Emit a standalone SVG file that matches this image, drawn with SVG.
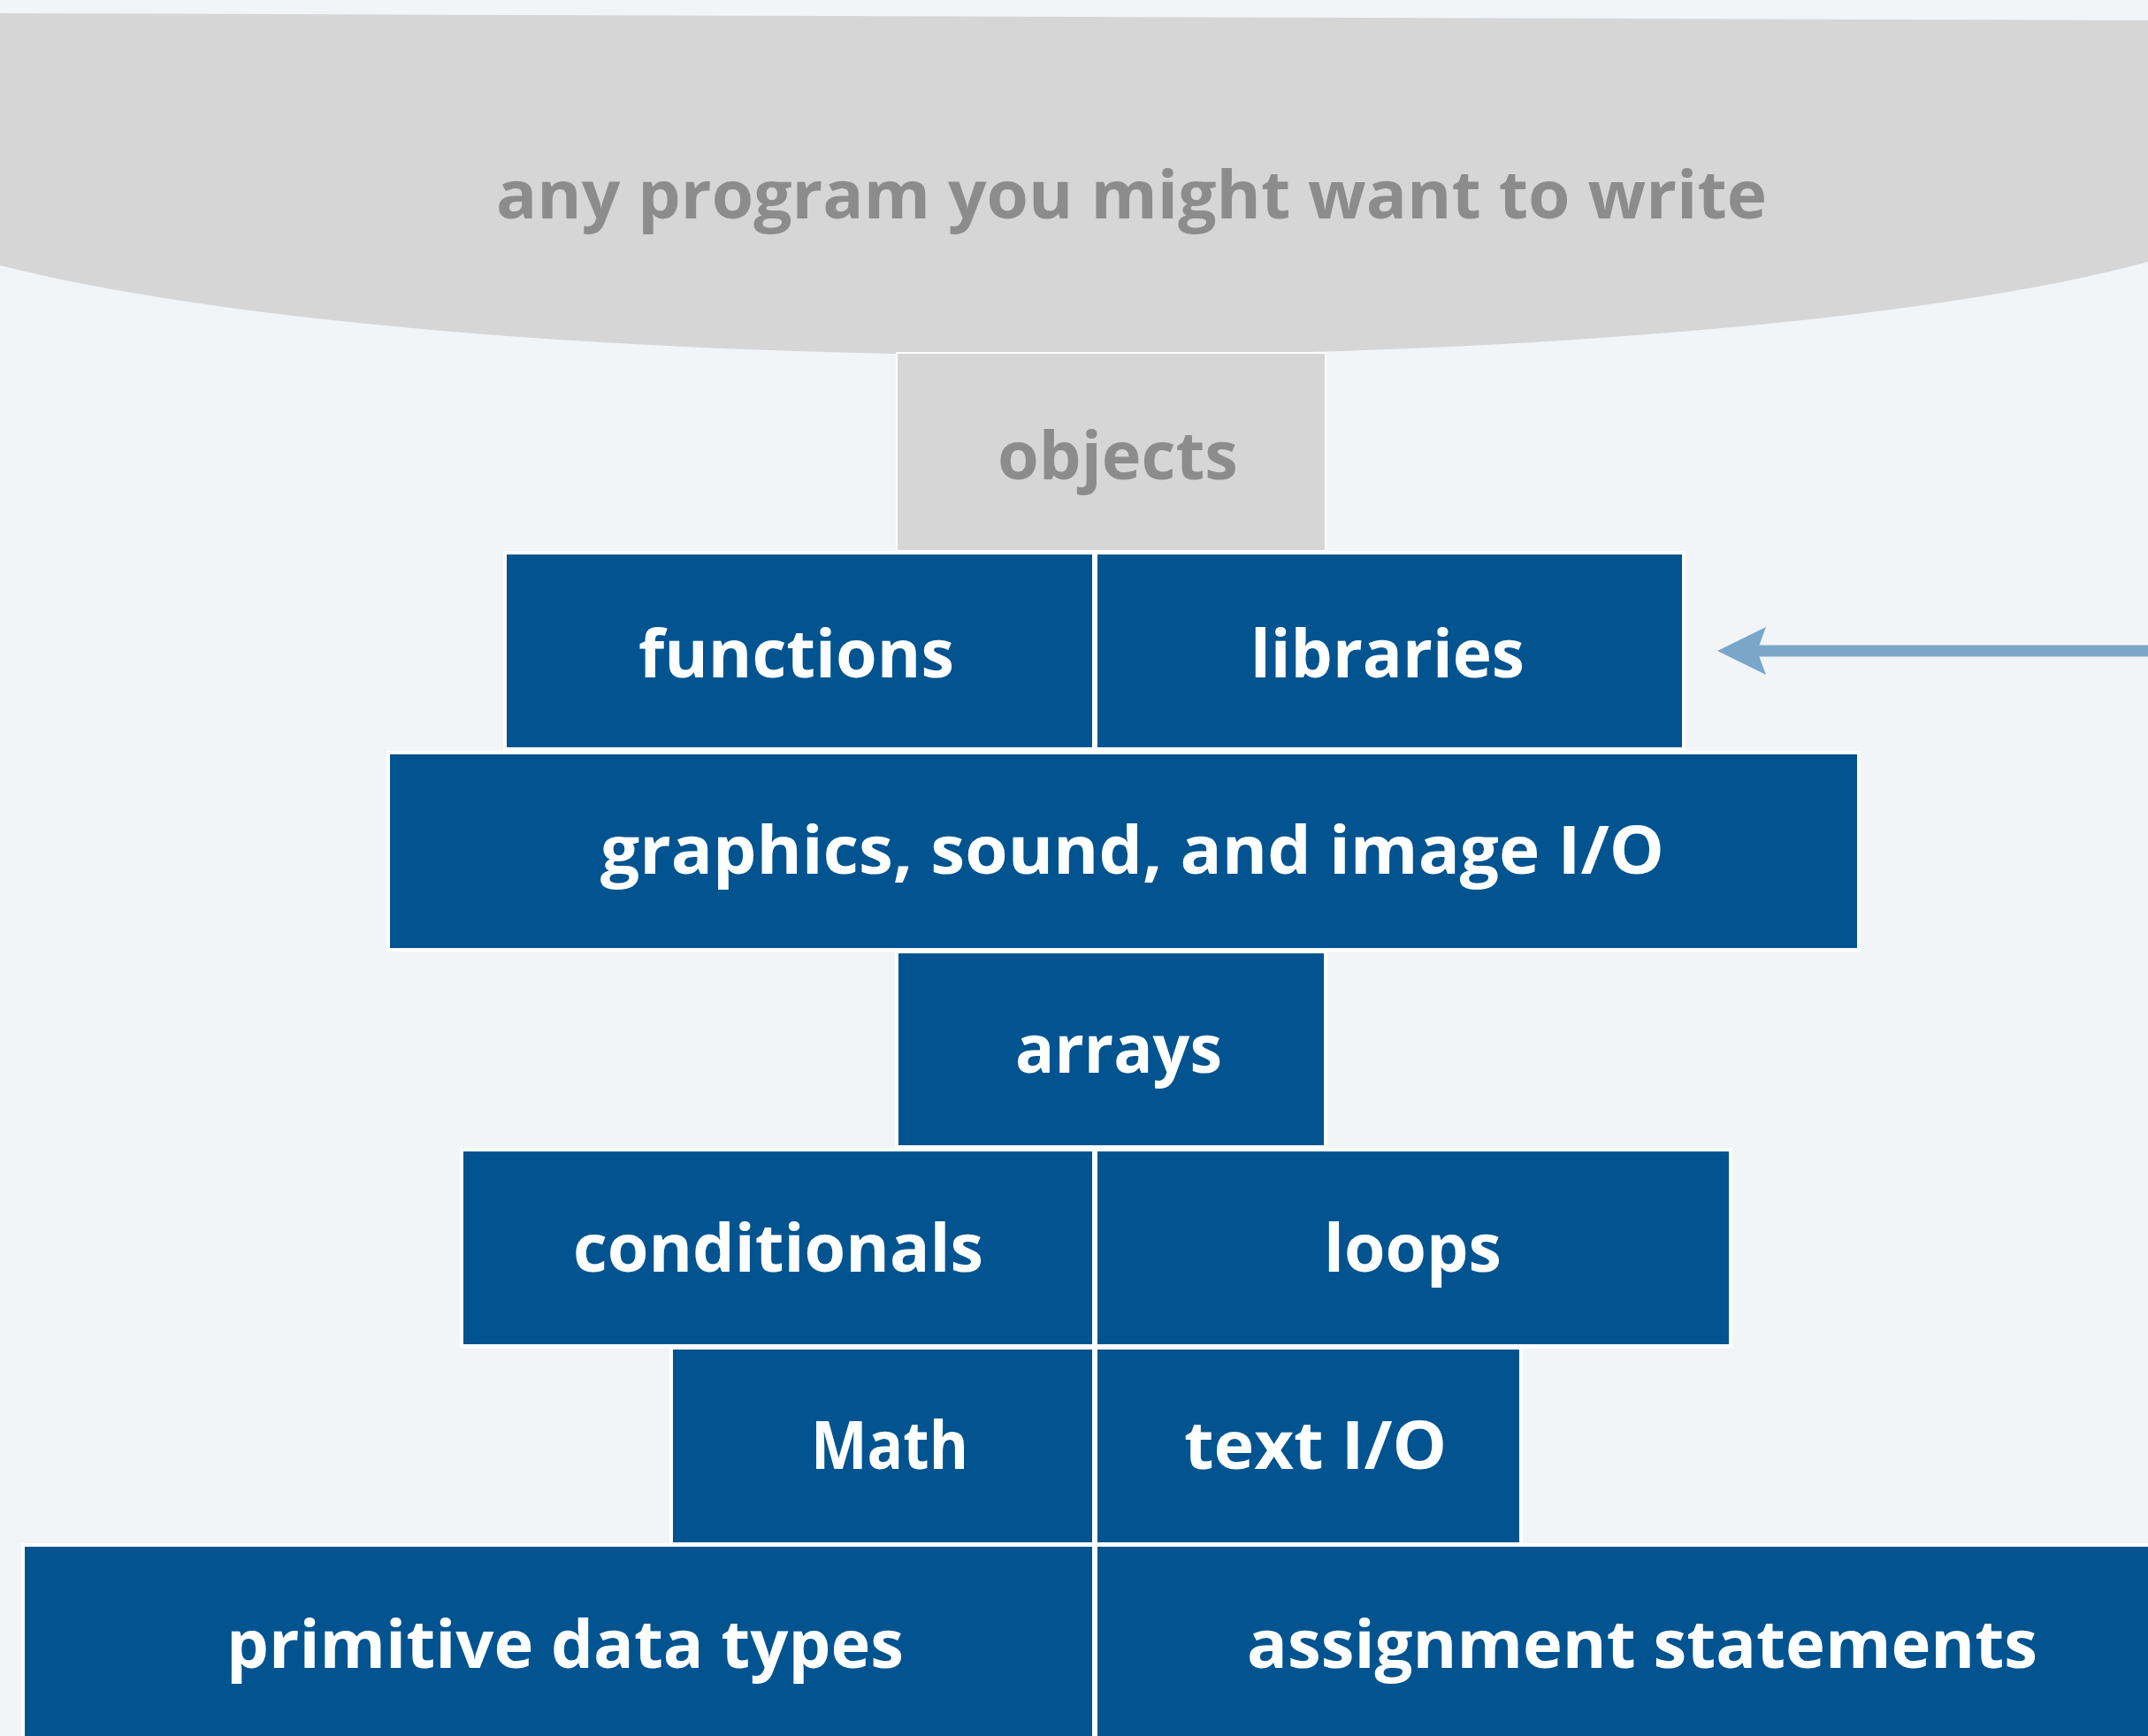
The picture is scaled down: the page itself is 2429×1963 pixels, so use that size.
<svg xmlns="http://www.w3.org/2000/svg" width="2429" height="1963" viewBox="0 0 2429 1963">
  <style>
    .edge { fill: #ffffff; }
    .blue { fill: #01548f; }
    .grey { fill: #d6d6d6; }
    .lbl { font-family: "Open Sans", "DejaVu Sans", sans-serif; font-weight: bold; font-size: 75px; fill: #ffffff; }
    .glbl { font-family: "Open Sans", "DejaVu Sans", sans-serif; font-weight: bold; font-size: 75px; fill: #8c8c8c; }
    .conn { stroke: #7aa7c9; stroke-width: 13; fill: none; }
  </style>
  <defs>
    <marker id="ah" markerUnits="userSpaceOnUse" markerWidth="60" markerHeight="60" viewBox="-10 -30 60 60" refX="0" refY="0" orient="auto" overflow="visible">
      <path d="M45,0 L-10,-27 L0,0 L-10,27 Z" fill="#7aa7c9"/>
    </marker>
  </defs>
  <rect x="0" y="0" width="2429" height="1963" fill="#f2f5f8"/>

  <g id="any-program">
    <path class="grey" d="M0,15 L2429,23 L2429,296 A1380,198 0 0 1 0,300 Z"/>
    <text class="glbl" x="561" y="247" textLength="1437" lengthAdjust="spacingAndGlyphs">any program you might want to write</text>
  </g>

  <g id="objects">
    <rect class="edge" x="1013" y="398" width="487" height="226"/>
    <rect class="grey" x="1015" y="400" width="483" height="222"/>
    <text class="glbl" x="1128" y="542" textLength="272" lengthAdjust="spacingAndGlyphs">objects</text>
  </g>

  <g id="functions">
    <rect class="edge" x="569" y="623" width="670" height="226"/>
    <rect class="blue" x="573" y="627" width="662" height="218"/>
    <text class="lbl" x="722" y="766" textLength="357" lengthAdjust="spacingAndGlyphs">functions</text>
  </g>
  <g id="libraries">
    <rect class="edge" x="1237" y="623" width="669" height="226"/>
    <rect class="blue" x="1241" y="627" width="661" height="218"/>
    <text class="lbl" x="1414" y="766" textLength="310" lengthAdjust="spacingAndGlyphs">libraries</text>
  </g>

  <g id="graphics">
    <rect class="edge" x="437" y="849" width="1667" height="227"/>
    <rect class="blue" x="441" y="853" width="1659" height="219"/>
    <text class="lbl" x="679" y="988" textLength="1203" lengthAdjust="spacingAndGlyphs">graphics, sound, and image I/O</text>
  </g>

  <g id="arrays">
    <rect class="edge" x="1012" y="1074" width="489" height="225"/>
    <rect class="blue" x="1016" y="1078" width="481" height="217"/>
    <text class="lbl" x="1148" y="1213" textLength="234" lengthAdjust="spacingAndGlyphs">arrays</text>
  </g>

  <g id="conditionals">
    <rect class="edge" x="520" y="1298" width="719" height="226"/>
    <rect class="blue" x="524" y="1302" width="711" height="218"/>
    <text class="lbl" x="648" y="1438" textLength="464" lengthAdjust="spacingAndGlyphs">conditionals</text>
  </g>
  <g id="loops">
    <rect class="edge" x="1237" y="1298" width="722" height="226"/>
    <rect class="blue" x="1241" y="1302" width="714" height="218"/>
    <text class="lbl" x="1497" y="1438" textLength="201" lengthAdjust="spacingAndGlyphs">loops</text>
  </g>

  <g id="math">
    <rect class="edge" x="757" y="1522" width="482" height="226"/>
    <rect class="blue" x="761" y="1526" width="474" height="218"/>
    <text class="lbl" x="917" y="1661" textLength="178" lengthAdjust="spacingAndGlyphs">Math</text>
  </g>
  <g id="text-io">
    <rect class="edge" x="1237" y="1522" width="485" height="226"/>
    <rect class="blue" x="1241" y="1526" width="477" height="218"/>
    <text class="lbl" x="1339" y="1661" textLength="297" lengthAdjust="spacingAndGlyphs">text I/O</text>
  </g>

  <g id="primitive-data-types">
    <rect class="edge" x="24" y="1745" width="1215" height="230"/>
    <rect class="blue" x="28" y="1749" width="1207" height="222"/>
    <text class="lbl" x="256" y="1886" textLength="766" lengthAdjust="spacingAndGlyphs">primitive data types</text>
  </g>
  <g id="assignment-statements">
    <rect class="edge" x="1237" y="1745" width="1210" height="230"/>
    <rect class="blue" x="1241" y="1749" width="1202" height="222"/>
    <text class="lbl" x="1410" y="1886" textLength="894" lengthAdjust="spacingAndGlyphs">assignment statements</text>
  </g>

  <g id="connectors">
    <line class="conn" x1="2440" y1="736" x2="1987" y2="736" marker-end="url(#ah)"/>
  </g>
</svg>
